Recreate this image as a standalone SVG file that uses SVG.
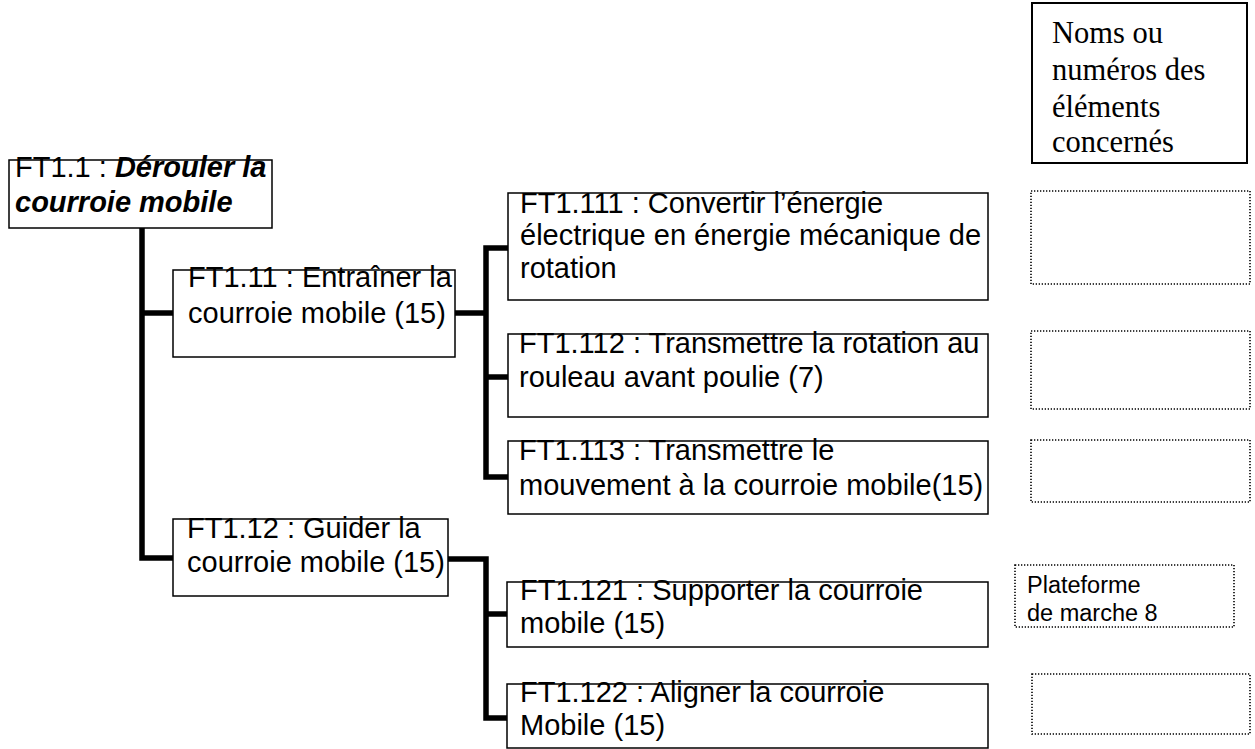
<svg xmlns="http://www.w3.org/2000/svg" width="1255" height="749" viewBox="0 0 1255 749">
<style>
.box{fill:#fff;stroke:#000;stroke-width:1.5}
.dot{fill:none;stroke:#000;stroke-width:1.6;stroke-dasharray:1.3 1.7}
.t{font-family:"Liberation Sans",Arial,sans-serif;font-size:29px;fill:#000}
.bi{font-weight:bold;font-style:italic}
.tm{font-family:"Liberation Serif","Times New Roman",serif;font-size:30.5px;fill:#000}
.s{font-family:"Liberation Sans",Arial,sans-serif;font-size:23.5px;fill:#000}
.c{fill:none;stroke:#000;stroke-width:5.5;stroke-linejoin:miter;stroke-linecap:butt}
</style>
<rect width="1255" height="749" fill="#fff"/>
<g id="connectors">
<path class="c" d="M142 228 V558 H173"/>
<path class="c" d="M142 313 H173"/>
<path class="c" d="M455 313 H486"/>
<path class="c" d="M508 248 H486 V477 H508"/>
<path class="c" d="M486 377 H508"/>
<path class="c" d="M448 559 H486 V718 H508"/>
<path class="c" d="M486 614 H507"/>
</g>
<g id="ft1_1">
<rect class="box" x="9" y="160" width="263" height="68"/>
<text class="t" x="15" y="177">FT1.1 : <tspan class="bi">Dérouler la</tspan></text>
<text class="t bi" x="15" y="212">courroie mobile</text>
</g>
<g id="ft1_11">
<rect class="box" x="173" y="270" width="282" height="87"/>
<text class="t" x="188" y="287">FT1.11 : Entraîner la</text>
<text class="t" x="188" y="323">courroie mobile (15)</text>
</g>
<g id="ft1_111">
<rect class="box" x="508" y="193" width="480" height="107"/>
<text class="t" x="520" y="213">FT1.111 : Convertir l’énergie</text>
<text class="t" x="520" y="245">électrique en énergie mécanique de</text>
<text class="t" x="520" y="278">rotation</text>
</g>
<g id="ft1_112">
<rect class="box" x="508" y="334" width="480" height="83"/>
<text class="t" x="519" y="353">FT1.112 : Transmettre la rotation au</text>
<text class="t" x="519" y="387">rouleau avant poulie (7)</text>
</g>
<g id="ft1_113">
<rect class="box" x="508" y="441" width="480" height="73"/>
<text class="t" x="519" y="460">FT1.113 : Transmettre le</text>
<text class="t" x="519" y="495">mouvement à la courroie mobile(15)</text>
</g>
<g id="ft1_12">
<rect class="box" x="173" y="519" width="275" height="77"/>
<text class="t" x="187" y="538">FT1.12 : Guider la</text>
<text class="t" x="187" y="572">courroie mobile (15)</text>
</g>
<g id="ft1_121">
<rect class="box" x="507" y="582" width="481" height="65"/>
<text class="t" x="520" y="600">FT1.121 : Supporter la courroie</text>
<text class="t" x="520" y="633">mobile (15)</text>
</g>
<g id="ft1_122">
<rect class="box" x="507" y="684" width="481" height="64"/>
<text class="t" x="520" y="702">FT1.122 : Aligner la courroie</text>
<text class="t" x="520" y="735">Mobile (15)</text>
</g>
<g id="noms">
<rect x="1032" y="3" width="215" height="160" fill="#fff" stroke="#000" stroke-width="2"/>
<text class="tm" x="1052" y="43">Noms ou</text>
<text class="tm" x="1052" y="80">numéros des</text>
<text class="tm" x="1052" y="117">éléments</text>
<text class="tm" x="1052" y="152">concernés</text>
</g>
<g id="el_111"><rect class="dot" x="1031" y="191" width="219" height="93"/></g>
<g id="el_112"><rect class="dot" x="1031" y="331" width="219" height="78"/></g>
<g id="el_113"><rect class="dot" x="1031" y="440" width="219" height="62"/></g>
<g id="el_121">
<rect class="dot" x="1015" y="565" width="219" height="62"/>
<text class="s" x="1027" y="593">Plateforme</text>
<text class="s" x="1027" y="621">de marche 8</text>
</g>
<g id="el_122"><rect class="dot" x="1032" y="674" width="218" height="60"/></g>
</svg>
